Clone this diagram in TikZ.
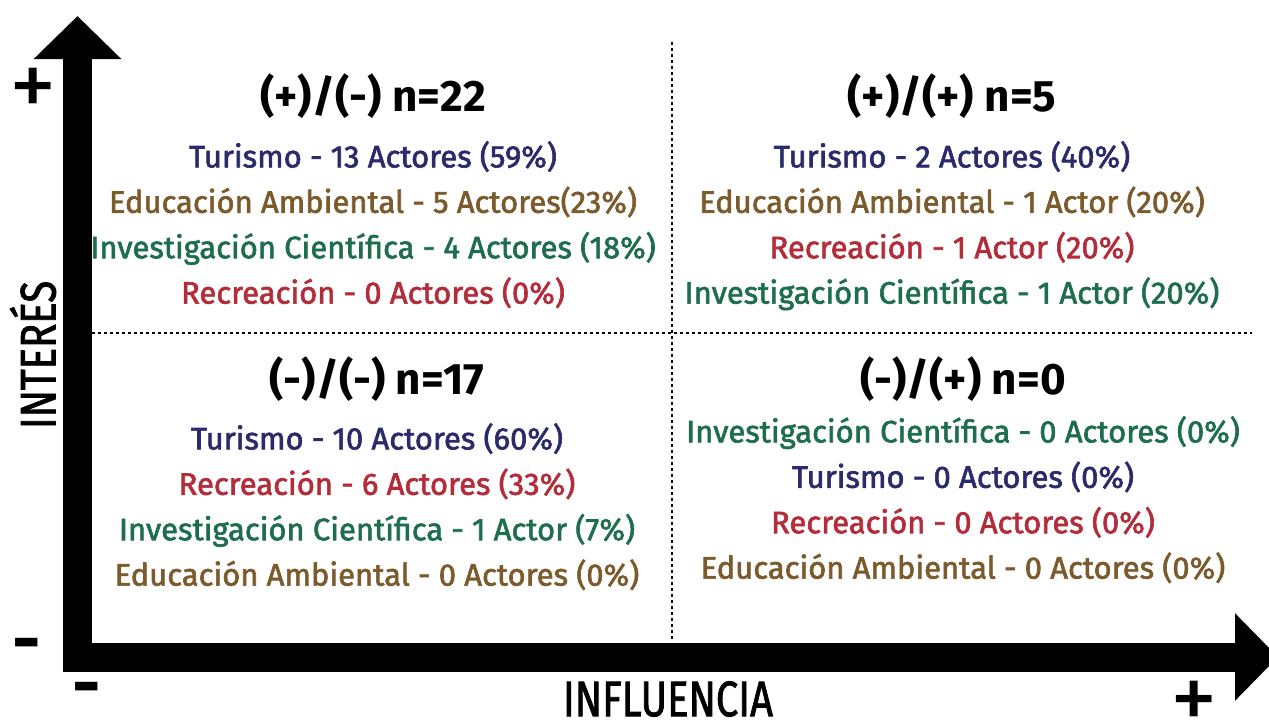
\documentclass[tikz,border=0pt]{standalone}
\usepackage{fontspec}
\setmainfont{Fira Sans}
\newfontfamily\semib{Fira Sans}[FakeBold=2]
\newfontfamily\narrowsemib{Fira Sans}[FakeStretch=0.8,FakeBold=1.5]
\usetikzlibrary{positioning,arrows.meta}

\definecolor{turcol}{HTML}{2B2A6B}
\definecolor{educol}{HTML}{7B5B2C}
\definecolor{invcol}{HTML}{1E6E4E}
\definecolor{reccol}{HTML}{B32C3A}

\tikzset{
  qtitle/.style={font=\fontsize{44}{50}\selectfont\bfseries, inner sep=0pt, text height=31pt, text depth=9pt},
  qline/.style={font=\semib\fontsize{31}{36}\selectfont, inner sep=0pt, text height=24pt, text depth=7pt},
  tur/.style={qline, text=turcol},
  edu/.style={qline, text=educol},
  inv/.style={qline, text=invcol},
  rec/.style={qline, text=reccol},
  plussign/.style={font=\fontsize{95}{95}\selectfont, inner sep=0pt},
  minussign/.style={font=\fontsize{70}{70}\selectfont\bfseries, inner sep=0pt},
  axlabel/.style={font=\narrowsemib\fontsize{50}{54}\selectfont, inner sep=0pt},
  axis/.style={line width=29pt, line join=miter,
    {Triangle[length=43pt,width=85pt]}-{Triangle[length=43pt,width=85pt]}},
  sep/.style={line width=1.5pt, dash pattern=on 3pt off 3pt}
}

\begin{document}
\begin{tikzpicture}[x=1pt, y=-1pt, node distance=14pt]

    \useasboundingbox (0,0) rectangle (1269,723);

    % Ejes
    \coordinate (ytip) at (77.5,16);
    \coordinate (origin) at (77.5,657);
    \coordinate (xtip) at (1278,657);
    \draw[axis] (ytip) -- (origin) -- (xtip);

    % Separadores
    \coordinate (vtop) at (672,42);
    \coordinate (vbot) at (672,640);
    \coordinate (hleft) at (92,333);
    \coordinate (hright) at (1252,333);
    \draw[sep] (vtop) -- (vbot);
    \draw[sep] (hleft) -- (hright);

    % Signos
    \node[plussign] (ymas) at (33,93) {+};
    \node[minussign] (ymenos) at (27,651) {-};
    \node[minussign] (xmenos) at (87,695) {-};
    \node[plussign] (xmas) at (1194,706) {+};

    % Etiquetas de los ejes
    \node[axlabel, rotate=90] (interes) at (33,355) {INTERÉS};
    \node[axlabel] (influencia) at (668,699) {INFLUENCIA};

    % Cuadrante (+)/(-)
    \node[qtitle] (t1) at (373,100) {(+)/(-) n=22};
    \node[tur, below=23pt of t1] (t1a) {Turismo - 13 Actores (59\%)};
    \node[edu, below=of t1a] (t1b) {Educación Ambiental - 5 Actores(23\%)};
    \node[inv, below=of t1b] (t1c) {Investigación Científica - 4 Actores (18\%)};
    \node[rec, below=of t1c] (t1d) {Recreación - 0 Actores (0\%)};

    % Cuadrante (+)/(+)
    \node[qtitle] (t2) at (952,100) {(+)/(+) n=5};
    \node[tur, below=23pt of t2] (t2a) {Turismo - 2 Actores (40\%)};
    \node[edu, below=of t2a] (t2b) {Educación Ambiental - 1 Actor (20\%)};
    \node[rec, below=of t2b] (t2c) {Recreación - 1 Actor (20\%)};
    \node[inv, below=of t2c] (t2d) {Investigación Científica - 1 Actor (20\%)};

    % Cuadrante (-)/(-)
    \node[qtitle] (t3) at (377,383) {(-)/(-) n=17};
    \node[tur, below=22pt of t3] (t3a) {Turismo - 10 Actores (60\%)};
    \node[rec, below=of t3a] (t3b) {Recreación - 6 Actores (33\%)};
    \node[inv, below=of t3b] (t3c) {Investigación Científica - 1 Actor (7\%)};
    \node[edu, below=of t3c] (t3d) {Educación Ambiental - 0 Actores (0\%)};

    % Cuadrante (-)/(+)
    \node[qtitle] (t4) at (963,383) {(-)/(+) n=0};
    \node[inv, below=15pt of t4] (t4a) {Investigación Científica - 0 Actores (0\%)};
    \node[tur, below=of t4a] (t4b) {Turismo - 0 Actores (0\%)};
    \node[rec, below=of t4b] (t4c) {Recreación - 0 Actores (0\%)};
    \node[edu, below=of t4c] (t4d) {Educación Ambiental - 0 Actores (0\%)};

\end{tikzpicture}
\end{document}
